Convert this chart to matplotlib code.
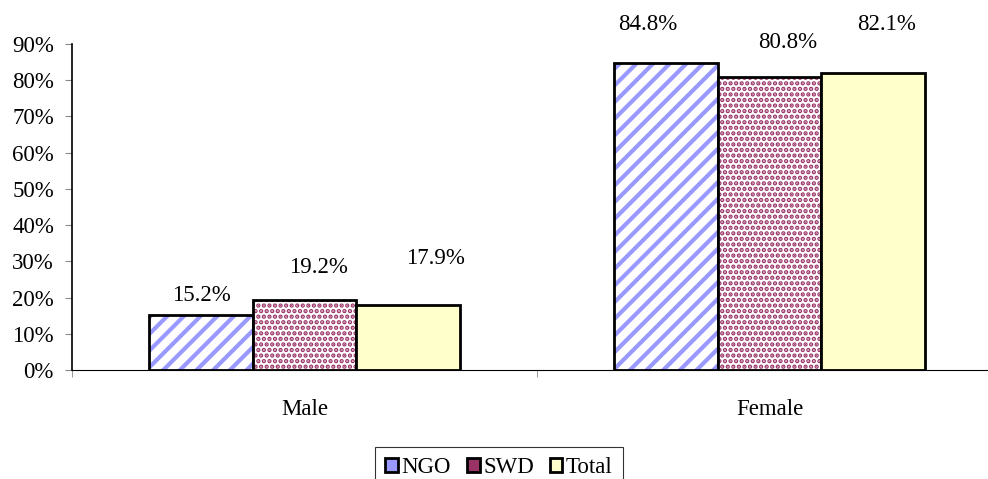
import matplotlib.pyplot as plt
import matplotlib.patches as mpatches
import numpy as np

plt.rcParams['font.family'] = ['Liberation Serif', 'DejaVu Serif']

categories = ['Male', 'Female']
series = ['NGO', 'SWD', 'Total']
values = {
    'NGO': [0.152, 0.848],
    'SWD': [0.192, 0.808],
    'Total': [0.179, 0.821],
}
yticks = np.arange(0, 1.0, 0.1)

# look of each series
face = {'NGO': 'white', 'SWD': 'white', 'Total': '#ffffcc'}
hatch = {'NGO': '//', 'SWD': '...', 'Total': None}
hatch_col = {'NGO': '#9999ff', 'SWD': '#993366', 'Total': None}
hatch_lw = {'NGO': 3.0, 'SWD': 2.2, 'Total': 1.0}
# label nudges (x in category units, y in axis units)
lab_dx = {'NGO': [0.0, -0.04], 'SWD': [0.03, 0.04], 'Total': [0.06, 0.03]}
lab_dy = {'NGO': [0.055, 0.107], 'SWD': [0.09, 0.095], 'Total': [0.13, 0.134]}

fig = plt.figure(figsize=(9.88, 4.79), dpi=100)
ax = fig.add_axes([72 / 988, 109 / 479, 930 / 988, 326 / 479])

x = np.arange(len(categories))
w = 0.2226
for i, s in enumerate(series):
    pos = x + (i - 1) * w
    v = values[s]
    if hatch[s]:
        with plt.rc_context({'hatch.linewidth': hatch_lw[s]}):
            ax.bar(pos, v, w, color=face[s], edgecolor=hatch_col[s], hatch=hatch[s], linewidth=0)
        ax.bar(pos, v, w, fill=False, edgecolor='black', linewidth=2.0)
    else:
        ax.bar(pos, v, w, color=face[s], edgecolor='black', linewidth=2.0)
    for j in range(len(categories)):
        ax.text(pos[j] + lab_dx[s][j], v[j] + lab_dy[s][j], f'{v[j]*100:.1f}%',
                ha='center', va='center', fontsize=16.5)

ax.set_xlim(-0.5, 1.5)
ax.set_ylim(0, 0.9)
ax.set_yticks(yticks)
ax.set_yticklabels([f'{int(round(t*100))}%' for t in yticks], fontsize=16.5)
ax.set_xticks(x)
ax.set_xticklabels(categories, fontsize=16.5)
ax.set_xticks([-0.5, 0.5, 1.5], minor=True)
ax.tick_params(axis='x', which='major', length=0, pad=21)
ax.tick_params(axis='x', which='minor', length=5, color='#888888', direction='out')
ax.tick_params(axis='y', length=5, color='#888888', pad=8)
for sp in ['top', 'right']:
    ax.spines[sp].set_visible(False)
ax.spines['left'].set_linewidth(1.2)
ax.spines['bottom'].set_linewidth(0.8)

handles = [
    mpatches.Patch(facecolor='#9999ff', edgecolor='black', linewidth=2),
    mpatches.Patch(facecolor='#993366', edgecolor='black', linewidth=2),
    mpatches.Patch(facecolor='#ffffcc', edgecolor='black', linewidth=2),
]
leg = fig.legend(handles, series, loc='upper center', bbox_to_anchor=(499 / 988, 1 - 447 / 479),
                 ncol=3, fontsize=16.5, frameon=True, fancybox=False, edgecolor='black',
                 handlelength=0.55, handleheight=0.55, handletextpad=0.15, columnspacing=0.7,
                 borderpad=0.45, borderaxespad=0)
leg.get_frame().set_linewidth(0.8)

fig.savefig('out.png', dpi=100)
